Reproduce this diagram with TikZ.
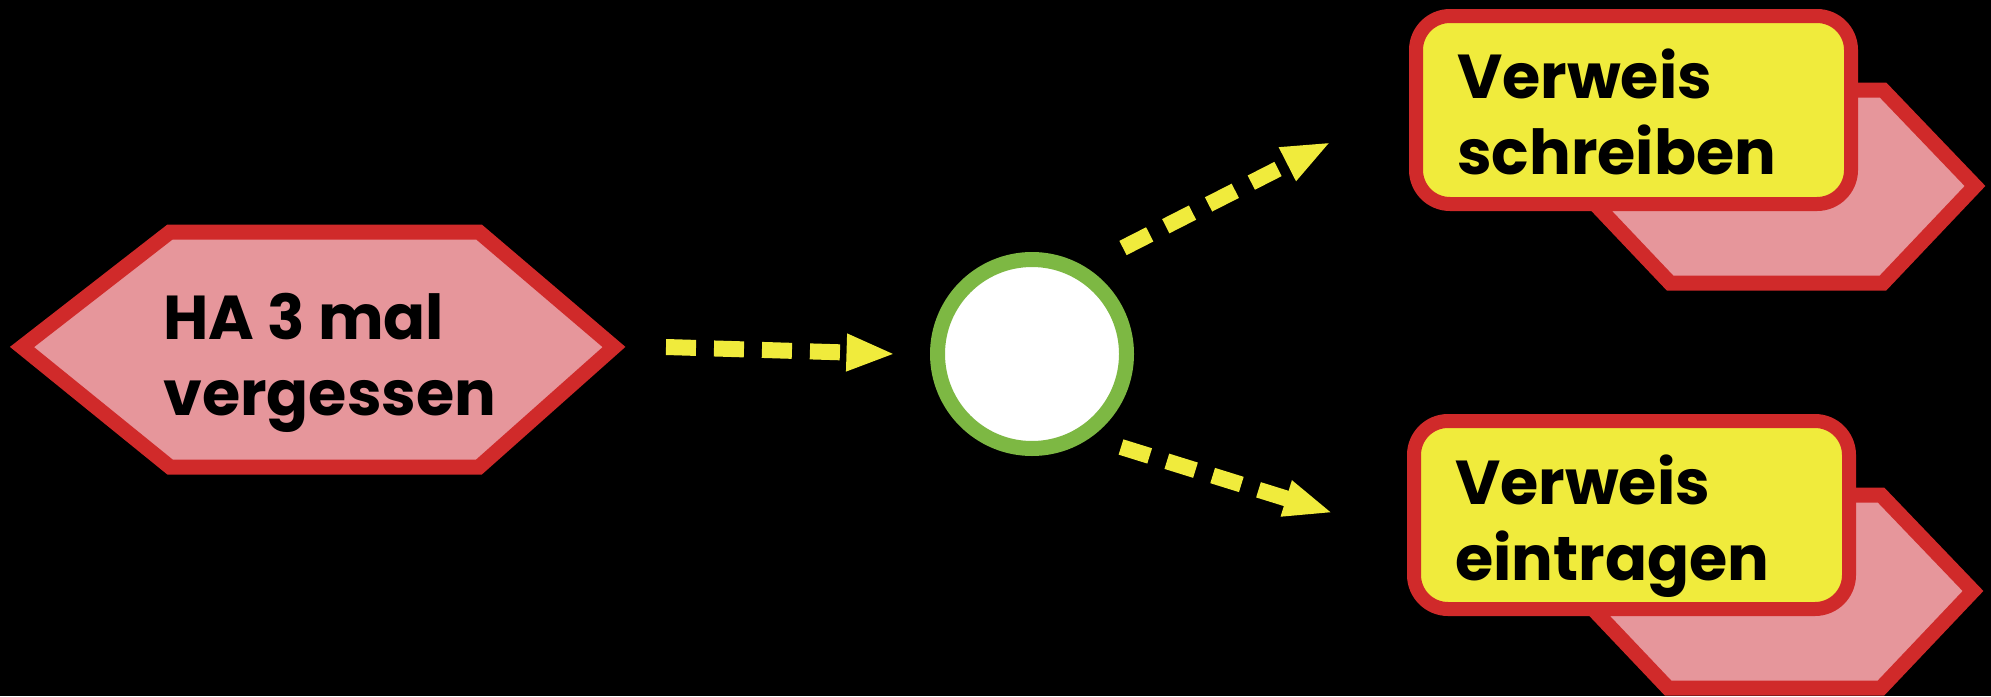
\documentclass[tikz,border=0pt]{standalone}
\usepackage{fontspec}
\setmainfont{Poppins}
\usetikzlibrary{arrows.meta}
\definecolor{bord}{RGB}{208,42,42}
\definecolor{pinkf}{RGB}{230,150,155}
\definecolor{yell}{RGB}{240,235,60}
\definecolor{grn}{RGB}{125,184,67}
\begin{document}
\begin{tikzpicture}[x=1pt,y=-1pt,
 hexa/.style={draw=bord, fill=pinkf, line width=15pt, line join=miter},
 ybox/.style={draw=bord, fill=yell, line width=14pt, rounded corners=34pt},
 lbl/.style={font=\fontsize{62}{76}\selectfont\bfseries, align=left, inner sep=0pt, anchor=base west, text=black},
 arr/.style={draw=yell, line width=16pt, dash pattern=on 30pt off 18pt, -{Triangle[length=49pt,width=34pt]}}
]
\useasboundingbox (0,0) rectangle (1991,696);
\fill[black] (0,0) rectangle (1991,696);
% left hexagon
\draw[hexa] (22,347) -- (170,232) -- (479,232) -- (614,347) -- (479,467) -- (170,467) -- cycle;
\coordinate (Ltip) at (614,347);
\node[lbl] (t1) at (163,415) {HA 3 mal\\vergessen};
% circle
\node[circle, draw=grn, fill=white, line width=15pt, minimum size=189pt, inner sep=0pt, outer sep=0pt] (c) at (1032,354) {};
% top right group
\draw[hexa] (1578,186) -- (1670,90) -- (1883,90) -- (1975,186) -- (1883,283) -- (1670,283) -- cycle;
\draw[ybox] (1416,16) rectangle (1851,204);
\node[lbl] (t2) at (1457,174) {Verweis\\schreiben};
% bottom right group
\draw[hexa] (1576,591) -- (1668,495) -- (1881,495) -- (1973,591) -- (1881,688) -- (1668,688) -- cycle;
\draw[ybox] (1414,421) rectangle (1849,609);
\node[lbl] (t3) at (1455,580) {Verweis\\eintragen};
% connectors
\coordinate (a2s) at (1123,248);
\coordinate (a2e) at (1331,142);
\coordinate (a3s) at (1121,447);
\coordinate (a3e) at (1333,513);
\draw[arr] ([xshift=52pt]Ltip) -- ([xshift=-42pt]c.west);
\draw[arr] (a2s) -- (a2e);
\draw[arr] (a3s) -- (a3e);
\end{tikzpicture}
\end{document}
